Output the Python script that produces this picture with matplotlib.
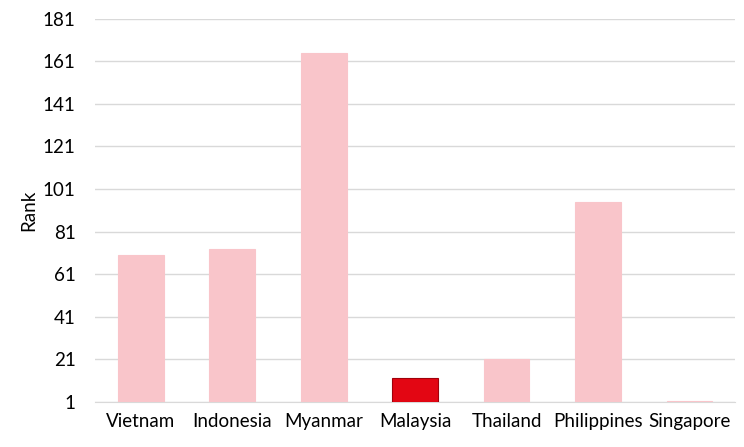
import matplotlib
matplotlib.use('Agg')
import matplotlib.pyplot as plt
import numpy as np

countries = ['Vietnam', 'Indonesia', 'Myanmar', 'Malaysia', 'Thailand', 'Philippines', 'Singapore']
rank = [70, 73, 165, 12, 21, 95, 1.6]
highlight = 'Malaysia'
yticks = [1, 21, 41, 61, 81, 101, 121, 141, 161, 181]

plt.rcParams['font.family'] = ['Lato', 'DejaVu Sans']

fig = plt.figure(figsize=(7.44, 4.47), dpi=100)
ax = fig.add_axes([0.128, 0.101, 0.860, 0.857])

x = np.arange(len(countries))
colors = ['#e30613' if c == highlight else '#f9c5ca' for c in countries]
edges = ['#a0000a' if c == highlight else '#f9c5ca' for c in countries]
heights = [r - 1 for r in rank]
ax.bar(x, heights, bottom=1, width=0.5, color=colors, edgecolor=edges, linewidth=0.8, zorder=3)

ax.set_ylim(1, 181)
ax.set_xlim(-0.5, len(countries) - 0.5)
ax.set_yticks(yticks)
ax.set_xticks(x)
ax.set_xticklabels(countries)
ax.yaxis.grid(True, color='#d9d9d9', linewidth=1, zorder=0)
ax.set_axisbelow(True)
for s in ['top', 'right', 'left']:
    ax.spines[s].set_visible(False)
ax.spines['bottom'].set_color('#d9d9d9')
ax.tick_params(axis='both', length=0, labelsize=13.5, colors='#000000')
ax.tick_params(axis='y', pad=14)
ax.tick_params(axis='x', pad=8)
ax.set_ylabel('Rank', fontsize=13.5, labelpad=4)

fig.savefig('out.png', dpi=100)
